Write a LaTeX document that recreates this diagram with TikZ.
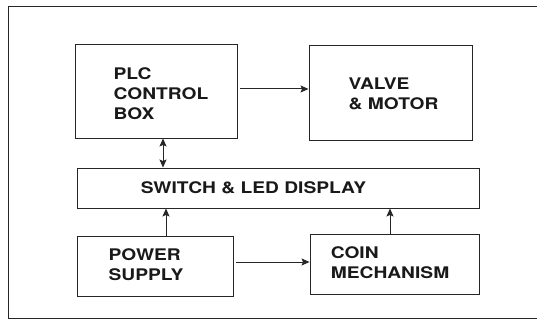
\documentclass[tikz,border=0pt]{standalone}
\usepackage{fontspec}
\setmainfont{TeX Gyre Heros}[FakeStretch=1.2]
\usepackage{tikz}
\usetikzlibrary{arrows.meta,positioning,calc}

\begin{document}
\begin{tikzpicture}[
  x=1pt, y=-1pt,
  every node/.style={inner sep=0pt},
  unitbox/.style ={draw=black!85, line width=0.9pt},
  unitname/.style={font=\fontsize{16}{20}\selectfont\bfseries,
                   align=left, text=black!90},
  flow/.style    ={draw=black!85, line width=1pt,
                   -{Stealth[length=8pt,width=7pt,inset=1.5pt]}},
  twoway/.style  ={draw=black!85, line width=1pt,
                   {Stealth[length=8pt,width=7pt,inset=1.5pt]}-{Stealth[length=8pt,width=7pt,inset=1.5pt]}}]

\useasboundingbox (0,0) rectangle (537,323);

% ===========================  frame  =================================
\draw[black!85, line width=0.9pt] (537,6) -- (8,6) -- (8,318) -- (537,318);

% ===========================  units  =================================
\node[unitbox, minimum width=162, minimum height=94] (plc)   at (156,91)   {};
\node[unitbox, minimum width=163, minimum height=95] (valve) at (390.5,92.5) {};
\node[unitbox, minimum width=402, minimum height=40] (disp)  at (278,188)  {};
\node[unitbox, minimum width=156, minimum height=60] (power) at (155,266)  {};
\node[unitbox, minimum width=169, minimum height=60] (coin)  at (394.5,264) {};

\node[unitname] (plcname)   at (161,94)    {PLC\\CONTROL\\BOX};
\node[unitname] (valvename) at (393.5,93.5) {VALVE\\\& MOTOR};
\node[unitname] (dispname)  at (253.5,188) {SWITCH \& LED DISPLAY};
\node[unitname] (powername) at (146,264.5) {POWER\\SUPPLY};
\node[unitname] (coinname)  at (390,262.5) {COIN\\MECHANISM};

% =========================  connections  =============================
\draw[flow, shorten <=3pt] ([yshift=2pt]plc.east) -- ([yshift=2pt]plc.east -| valve.west);
\draw[twoway] ([xshift=7pt]plc.south) -- ([xshift=7pt]plc.south |- disp.north);
\draw[flow] ([xshift=11pt]power.north) -- ([xshift=11pt]power.north |- disp.south);
\draw[flow] ([xshift=-4.5pt]coin.north) -- ([xshift=-4.5pt]coin.north |- disp.south);
\draw[flow, shorten <=3pt] ([yshift=4pt]power.east) -- ([yshift=4pt]power.east -| coin.west);

\end{tikzpicture}
\end{document}
